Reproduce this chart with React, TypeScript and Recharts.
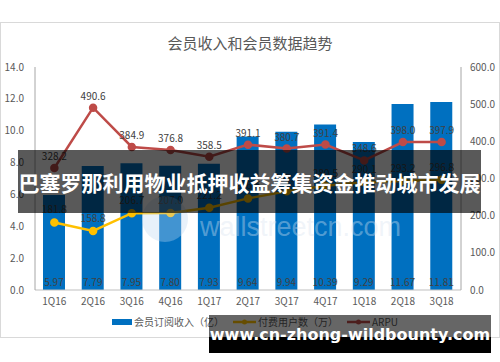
import { ComposedChart, Bar, Line, XAxis, YAxis, LabelList, Legend } from 'recharts';

const quarters = ['1Q16', '2Q16', '3Q16', '4Q16', '1Q17', '2Q17', '3Q17', '4Q17', '1Q18', '2Q18', '3Q18'];
const revenue = [5.97, 7.79, 7.95, 7.8, 7.93, 9.64, 9.94, 10.39, 9.29, 11.67, 11.81];
const payingUsers = [181.8, 158.8, 206.7, 207.0, 221.2, 246.5, 265.4, 280.5, 290.1, 293.2, 296.8];
const arpu = [328.2, 490.6, 384.9, 376.8, 358.5, 391.1, 380.7, 391.4, 348.6, 398.0, 397.9];
const leftTicks = [0, 2, 4, 6, 8, 10, 12, 14];
const rightTicks = [0, 100, 200, 300, 400, 500, 600];

const data = quarters.map((q, i) => ({
  q,
  revenue: revenue[i],
  users: payingUsers[i],
  arpu: arpu[i],
}));

const BLUE = '#0070C0';
const GOLD = '#FFC000';
const RED = '#BE4B48';
const TEXT = '#595959';
const FONT = '"Noto Sans CJK SC", "Noto Sans", sans-serif';

function LegendBox() {
  return (
    <svg width={500} height={18} style={{ display: 'block' }}>
      <g fontSize={10} fill={TEXT} fontFamily={FONT}>
        <rect x={112} y={5} width={20} height={6} fill={BLUE} />
        <text x={134} y={12}>会员订阅收入（亿）</text>
        <line x1={233} x2={256} y1={8} y2={8} stroke={GOLD} strokeWidth={2.5} />
        <circle cx={244.5} cy={8} r={2.5} fill={GOLD} />
        <text x={258} y={12}>付费用户数（万）</text>
        <line x1={347} x2={370} y1={8} y2={8} stroke={RED} strokeWidth={2.5} />
        <circle cx={358.5} cy={8} r={2.5} fill={RED} />
        <text x={372} y={12}>ARPU</text>
      </g>
    </svg>
  );
}

export default function App() {
  return (
    <div style={{ position: 'fixed', top: 0, left: 0, width: 500, height: 362, background: '#fff', overflow: 'hidden', fontFamily: FONT }}>
      <div style={{ position: 'absolute', left: 0, top: 22, width: 498, height: 314, border: '1px solid #d9d9d9' }} />
      <div style={{ position: 'absolute', left: 0, top: 32, width: 500, textAlign: 'center', fontSize: 15, color: TEXT }}>
        会员收入和会员数据趋势
      </div>
      <div style={{ position: 'absolute', left: 0, top: 0 }}>
        <ComposedChart width={500} height={362} data={data} margin={{ top: 67, right: 0, bottom: 52, left: 0 }}>
          <XAxis
            dataKey="q"
            height={20}
            stroke="#bfbfbf"
            tickLine={false}
            tick={{ fill: TEXT, fontSize: 10, fontFamily: FONT }}
            interval={0}
          />
          <YAxis
            yAxisId="left"
            orientation="left"
            width={35}
            domain={[0, 14]}
            ticks={leftTicks}
            tickFormatter={(v: number) => v.toFixed(1)}
            stroke="#a6a6a6"
            tickLine={false}
            tickMargin={5}
            tick={{ fill: TEXT, fontSize: 10, fontFamily: FONT }}
          />
          <YAxis
            yAxisId="right"
            orientation="right"
            width={39}
            domain={[0, 600]}
            ticks={rightTicks}
            tickFormatter={(v: number) => v.toFixed(1)}
            stroke="#a6a6a6"
            tickLine={false}
            tickMargin={3}
            tick={{ fill: TEXT, fontSize: 10, fontFamily: FONT }}
          />
          <Legend
            layout="horizontal"
            verticalAlign="middle"
            align="center"
            wrapperStyle={{ top: 314, left: 0, width: 500 }}
            content={() => <LegendBox />}
          />
          <Bar yAxisId="left" dataKey="revenue" fill={BLUE} barSize={22} isAnimationActive={false}>
            <LabelList
              dataKey="revenue"
              position="insideBottom"
              offset={4}
              fill="#404040"
              fontSize={10}
              formatter={(v: any) => Number(v).toFixed(2)}
            />
          </Bar>
          <Line
            yAxisId="right"
            dataKey="users"
            stroke={GOLD}
            strokeWidth={2.5}
            dot={{ r: 3, fill: GOLD, stroke: GOLD }}
            isAnimationActive={false}
          >
            <LabelList
              dataKey="users"
              position="top"
              offset={9}
              fill="#404040"
              fontSize={10}
              formatter={(v: any) => Number(v).toFixed(1)}
            />
          </Line>
          <Line
            yAxisId="right"
            dataKey="arpu"
            stroke={RED}
            strokeWidth={2.5}
            dot={{ r: 3, fill: RED, stroke: RED }}
            isAnimationActive={false}
          >
            <LabelList
              dataKey="arpu"
              position="top"
              offset={8}
              fill="#404040"
              fontSize={10}
              formatter={(v: any) => Number(v).toFixed(1)}
            />
          </Line>
        </ComposedChart>
      </div>
      {/* faint watermark */}
      <div style={{ position: 'absolute', left: 142, top: 196, width: 46, height: 46, borderRadius: 23, background: 'rgba(190,215,240,0.35)' }} />
      <div style={{ position: 'absolute', left: 200, top: 212, fontSize: 27, fontFamily: '"Liberation Sans", sans-serif', color: 'rgba(215,228,240,0.4)' }}>
        wallstreetcn.com
      </div>
      {/* overlay banners */}
      <div
        style={{
          position: 'absolute', left: 18, top: 150, width: 463, height: 63,
          background: 'rgba(0,0,0,0.65)', color: '#fff', fontWeight: 'bold', fontSize: 21,
          display: 'flex', alignItems: 'center', justifyContent: 'center', whiteSpace: 'nowrap',
        }}
      >
        巴塞罗那利用物业抵押收益筹集资金推动城市发展
      </div>
      <div
        style={{
          position: 'absolute', left: 209, top: 315, width: 282, height: 38,
          background: 'linear-gradient(to bottom, rgba(0,0,0,0.6) 0px, rgba(0,0,0,0.6) 22px, #000 22px, #000 38px)',
          color: '#fff', fontWeight: 'bold', fontSize: 16, fontFamily: '"DejaVu Sans", sans-serif',
          display: 'flex', alignItems: 'center', justifyContent: 'center', whiteSpace: 'nowrap',
        }}
      >
        www.cn-zhong-wildbounty.com
      </div>
    </div>
  );
}
